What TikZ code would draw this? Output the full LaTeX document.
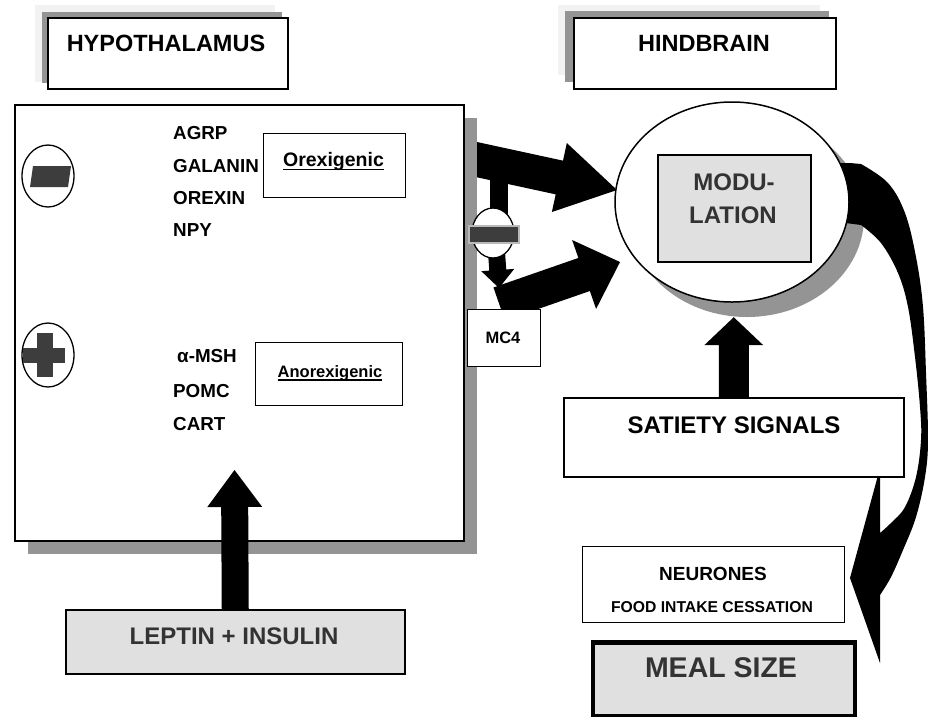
\documentclass[tikz,border=0pt]{standalone}
\usepackage{fontspec}
\setmainfont{Liberation Sans}
\usetikzlibrary{calc,shapes.geometric}

\definecolor{boxgray}{gray}{0.88}
\definecolor{shadowgray}{gray}{0.58}
\definecolor{fadegray}{gray}{0.95}
\definecolor{txtgray}{gray}{0.2}
\definecolor{signgray}{gray}{0.24}

% block arrow: tail, tip, half shaft width, half head width, head length
\newcommand\bArrow[5]{%
  \coordinate (bA-h) at ($(#2)!#5!(#1)$);
  \fill ($(#1)!#3!90:(#2)$) -- ($(bA-h)!#3!90:(#2)$) -- ($(bA-h)!#4!90:(#2)$) -- (#2)
    -- ($(bA-h)!#4!-90:(#2)$) -- ($(bA-h)!#3!-90:(#2)$) -- ($(#1)!#3!-90:(#2)$) -- cycle;}

\begin{document}
\begin{tikzpicture}[x=1pt,y=-1pt,
  txt/.style={inner sep=0pt, font=\bfseries\fontsize{#1}{#1}\selectfont},
  frame/.style={draw=black, line width=1.6pt, fill=white, inner sep=0pt, anchor=north west},
  thinframe/.style={draw=black, line width=1.3pt, fill=white, inner sep=0pt, anchor=north west},
  greybox/.style={draw=black, line width=1.5pt, fill=boxgray, inner sep=0pt, anchor=north west},
  sign/.style={draw=black, line width=1.3pt, fill=white, ellipse, inner sep=0pt}]

\useasboundingbox (0,0) rectangle (928,716);

% ---- title boxes with their shadows
\fill[fadegray] (35,5) rectangle (275,82);
\fill[shadowgray] (42,12) rectangle (282,83);
\node[frame, minimum width=240pt, minimum height=71pt] (hyp) at (47,17) {};
\node[txt=23.5, anchor=base] (hypt) at (166,51.7) {HYPOTHALAMUS};

\fill[fadegray] (558,5) rectangle (820,75);
\fill[shadowgray] (565,11) rectangle (829,82);
\node[frame, minimum width=262pt, minimum height=71pt] (hind) at (573,17) {};
\node[txt=23.5, anchor=base] (hindt) at (704,51.7) {HINDBRAIN};

% ---- arrows leaving the hypothalamus (under its shadow)
\coordinate (upT) at (468,157.7);
\coordinate (upP) at (617,190);
\bArrow{upT}{upP}{17.25pt}{35.3pt}{59pt}
\coordinate (loT) at (499.2,304);
\coordinate (loP) at (620,262);
\bArrow{loT}{loP}{17.5pt}{36.5pt}{38pt}
\fill (490,170) rectangle (508,215);
\coordinate (dnT) at (496.5,252);
\coordinate (dnP) at (499,288);
\bArrow{dnT}{dnP}{8.5pt}{16.5pt}{18pt}

% ---- hypothalamus panel
\fill[shadowgray] (28,118) rectangle (477,554);
\node[frame, line width=1.8pt, minimum width=449pt, minimum height=436pt] (hbox) at (14,104) {};

% inhibitory sign on the MC4 branch
\node[sign, minimum width=42pt, minimum height=50pt] (inh2) at (493,233) {};
\fill[gray!55] (468,225) rectangle (520,244);
\fill[signgray] (470,227) rectangle (518,242);

\node[thinframe, minimum width=73pt, minimum height=57pt] (mc4) at (467,309) {};
\node[txt=16.5, anchor=base] (mc4t) at (503,343) {MC4};

% peptide lists
\node[txt=18.8, anchor=base west] (agrp) at (173,139) {AGRP};
\node[txt=18.8, anchor=base west] (gal) at (173,172) {GALANIN};
\node[txt=18.8, anchor=base west] (orx) at (173,204) {OREXIN};
\node[txt=18.8, anchor=base west] (npy) at (173,236) {NPY};
\node[txt=18.8, anchor=base west] (amsh) at (177,362) {α-MSH};
\node[txt=18.8, anchor=base west] (pomc) at (173,397) {POMC};
\node[txt=18.8, anchor=base west] (cart) at (173,430) {CART};

\node[thinframe, minimum width=142pt, minimum height=64pt] (orexb) at (263,133) {};
\node[txt=19.5, anchor=base] (orext) at (333.5,166.7) {Orexigenic};
\draw[line width=1.3pt] ([yshift=-3pt]orext.base west) -- ([yshift=-3pt]orext.base east);

\node[thinframe, minimum width=147pt, minimum height=63pt] (anorb) at (255,342) {};
\node[txt=16.5, anchor=base] (anort) at (330,377) {Anorexigenic};
\draw[line width=1.2pt] ([yshift=-3pt]anort.base west) -- ([yshift=-3pt]anort.base east);

% minus and plus signs
\node[sign, minimum width=52pt, minimum height=62pt] (minus) at (48,176) {};
\fill[signgray] (33,166) -- (71,166) -- (68,187) -- (30,187) -- cycle;
\node[sign, minimum width=52pt, minimum height=64pt] (plus) at (48,355) {};
\fill[signgray] (37,333) rectangle (53,377);
\fill[signgray] (23,348) rectangle (65,363);

% ---- modulation (hindbrain)
\node[ellipse, fill=shadowgray, minimum width=234pt, minimum height=200pt, inner sep=0pt] (modsh) at (747,217) {};
\fill (838,163) -- (850,163) -- (861,164)
  -- plot[smooth, tension=0.6] coordinates {(861,164) (888,183) (905,213) (916,257) (923,307) (926,373) (928,440) (925,477) (916,517) (903,550) (891,577) (880,595)}
  -- (880,663) -- (850,578) -- (880,468) -- (880,533)
  -- plot[smooth, tension=0.6] coordinates {(880,533) (891,523) (905,507) (916,477) (921,440) (920,407) (915,357) (908,307) (898,273) (881,243) (861,225)}
  -- (838,222) -- cycle;
\node[ellipse, draw=black, line width=1.5pt, fill=white, minimum width=234pt, minimum height=200pt, inner sep=0pt] (mod) at (732,202) {};
\node[greybox, minimum width=153pt, minimum height=107pt] (modb) at (657,154) {};
\node[txt=24, anchor=base, text=txtgray] (modt1) at (734,190) {MODU-};
\node[txt=24, anchor=base, text=txtgray] (modt2) at (733,223) {LATION};

% ---- satiety signals
\node[thinframe, line width=1.5pt, minimum width=340pt, minimum height=79pt] (sat) at (563,397) {};
\node[txt=24, anchor=base] (satt) at (734,433) {SATIETY SIGNALS};
\coordinate (satP) at (sat.north |- modsh.south);
\bArrow{sat.north}{satP}{15pt}{29.5pt}{28pt}

% ---- neurones and meal size
\node[thinframe, minimum width=262pt, minimum height=76pt] (neur) at (582,546) {};
\node[txt=19, anchor=base] (neurt) at (713,580) {NEURONES};
\node[txt=15.7, anchor=base] (foodt) at (712,612) {FOOD INTAKE CESSATION};

\node[greybox, line width=4.5pt, minimum width=262pt, minimum height=74pt] (meal) at (590.5,640) {};
\node[txt=28.5, anchor=base, text=txtgray] (mealt) at (721,677) {MEAL SIZE};

% ---- leptin + insulin
\node[greybox, minimum width=339pt, minimum height=64pt] (lep) at (65,609) {};
\node[txt=24, anchor=base, text=txtgray] (lept) at (234,644) {LEPTIN + INSULIN};
\coordinate (lepP) at (234.5,470);
\bArrow{lep.north}{lepP}{13.5pt}{27.5pt}{37pt}

\end{tikzpicture}
\end{document}
